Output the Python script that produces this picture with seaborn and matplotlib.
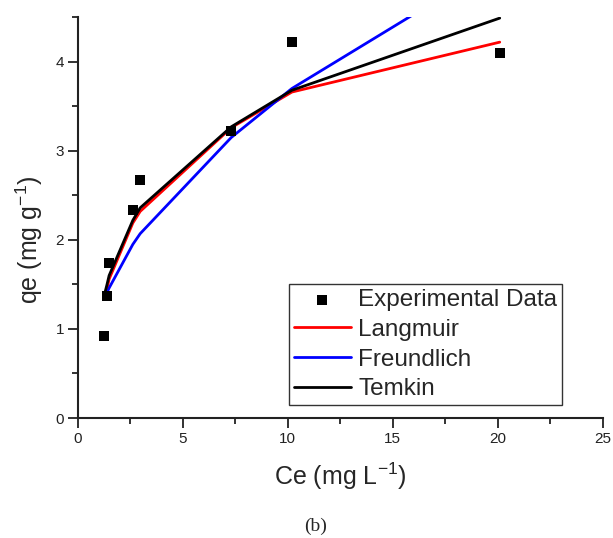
import numpy as np
import pandas as pd
import matplotlib
matplotlib.use("Agg")
import matplotlib.pyplot as plt
from matplotlib.ticker import MultipleLocator
import seaborn as sns

# ---- data ----
ce = [1.25, 1.39, 1.49, 2.62, 2.97, 7.31, 10.2, 20.1]
qe = [0.92, 1.37, 1.74, 2.34, 2.67, 3.22, 4.22, 4.10]
langmuir = [1.33, 1.45, 1.56, 2.19, 2.32, 3.26, 3.66, 4.22]
freundlich = [1.36, 1.41, 1.46, 1.95, 2.07, 3.15, 3.70, 5.12]
temkin = [1.37, 1.50, 1.60, 2.22, 2.36, 3.27, 3.68, 4.49]

sns.set_theme(style="ticks")
plt.rcParams['font.family'] = ['Liberation Sans', 'DejaVu Sans']
plt.rcParams['mathtext.default'] = 'regular'

df = pd.DataFrame({"Ce": ce, "qe": qe, "Langmuir": langmuir,
                   "Freundlich": freundlich, "Temkin": temkin})

fig = plt.figure(figsize=(6.13, 5.38), dpi=100)
ax = fig.add_axes([0.127, 0.223, 0.856, 0.745])

sns.scatterplot(data=df, x="Ce", y="qe", marker="s", s=60, color="black",
                edgecolor="black", linewidth=0, label="Experimental Data", ax=ax, zorder=5)
sns.lineplot(data=df, x="Ce", y="Langmuir", color="#ff0000", lw=2, label="Langmuir", ax=ax)
sns.lineplot(data=df, x="Ce", y="Freundlich", color="#0000ff", lw=2, label="Freundlich", ax=ax)
sns.lineplot(data=df, x="Ce", y="Temkin", color="black", lw=2, label="Temkin", ax=ax)

ax.set_xlim(0, 25)
ax.set_ylim(0, 4.5)
ax.xaxis.set_major_locator(MultipleLocator(5))
ax.xaxis.set_minor_locator(MultipleLocator(2.5))
ax.yaxis.set_major_locator(MultipleLocator(1))
ax.yaxis.set_minor_locator(MultipleLocator(0.5))
ax.tick_params(which="major", direction="out", length=7, width=1.3, labelsize=11,
               colors="#222222", pad=3)
ax.tick_params(which="minor", direction="out", length=4, width=1.3, colors="#222222")
for side in ["top", "right"]:
    ax.spines[side].set_visible(False)
for side in ["left", "bottom"]:
    ax.spines[side].set_linewidth(1.5)
    ax.spines[side].set_color("#222222")

ax.set_xlabel("Ce (mg L$^{-1}$)", fontsize=18)
ax.set_ylabel("qe (mg g$^{-1}$)", fontsize=18)
ax.xaxis.set_label_coords(0.5, -0.105)
ax.yaxis.set_label_coords(-0.063, 0.444)

leg = ax.legend(loc="lower right", bbox_to_anchor=(0.923, 0.032), borderaxespad=0,
                fontsize=17.5, frameon=True, fancybox=False, edgecolor="black",
                handlelength=2.35, handletextpad=0.3, labelspacing=0.32,
                borderpad=0.2, markerscale=1.0)
leg.get_frame().set_linewidth(1.0)

fig.text(0.514, 0.022, "(b)", ha="center", va="center", fontsize=14,
         family=["Liberation Serif", "DejaVu Serif"])

fig.savefig("out.png", dpi=100)
